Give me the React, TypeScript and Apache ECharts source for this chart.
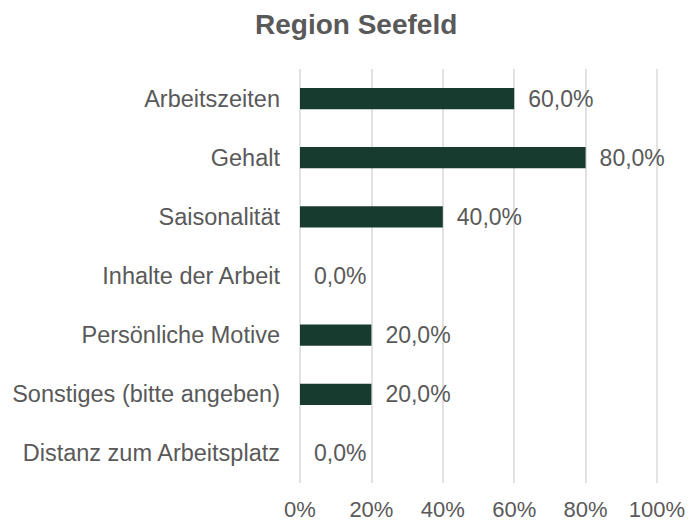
import React, { useEffect, useRef } from "react";
import * as echarts from "echarts";

const titleText = "Region Seefeld";
const categories = [
  "Arbeitszeiten",
  "Gehalt",
  "Saisonalität",
  "Inhalte der Arbeit",
  "Persönliche Motive",
  "Sonstiges (bitte angeben)",
  "Distanz zum Arbeitsplatz",
];
const values = [60, 80, 40, 0, 20, 20, 0];

const FONT = "'Liberation Sans', Arial, sans-serif";
const TEXT = "#595959";

export default function App() {
  const ref = useRef<HTMLDivElement>(null);
  useEffect(() => {
    if (!ref.current) return;
    const chart = echarts.init(ref.current, undefined, { renderer: "svg" });
    chart.setOption({
      animation: false,
      backgroundColor: "#ffffff",
      title: {
        text: titleText,
        left: 250,
        top: 5,
        textStyle: { fontFamily: FONT, fontSize: 28, fontWeight: "bold", color: TEXT },
      },
      grid: { left: 300, right: 32, top: 69, bottom: 37, containLabel: false },
      xAxis: {
        type: "value",
        min: 0,
        max: 100,
        interval: 20,
        axisLine: { show: false },
        axisTick: { show: false },
        splitLine: { show: true, lineStyle: { color: "#d9d9d9", width: 1.5 } },
        axisLabel: {
          formatter: (v: number) => v + "%",
          color: TEXT,
          fontFamily: FONT,
          fontSize: 22,
          margin: 15,
        },
      },
      yAxis: {
        type: "category",
        data: categories,
        inverse: true,
        axisLine: { show: false },
        axisTick: { show: false },
        axisLabel: { color: TEXT, fontFamily: FONT, fontSize: 23.5, margin: 20 },
      },
      series: [
        {
          type: "bar",
          data: values,
          barWidth: "36%",
          itemStyle: { color: "#173b2f" },
          label: {
            show: true,
            position: "right",
            distance: 14,
            formatter: (p: any) => p.value.toFixed(1).replace(".", ",") + "%",
            color: TEXT,
            fontFamily: FONT,
            fontSize: 23,
          },
        },
      ],
    });
    return () => chart.dispose();
  }, []);
  return (
    <div
      ref={ref}
      style={{ position: "absolute", left: 0, top: 0, width: 689, height: 520 }}
    />
  );
}
